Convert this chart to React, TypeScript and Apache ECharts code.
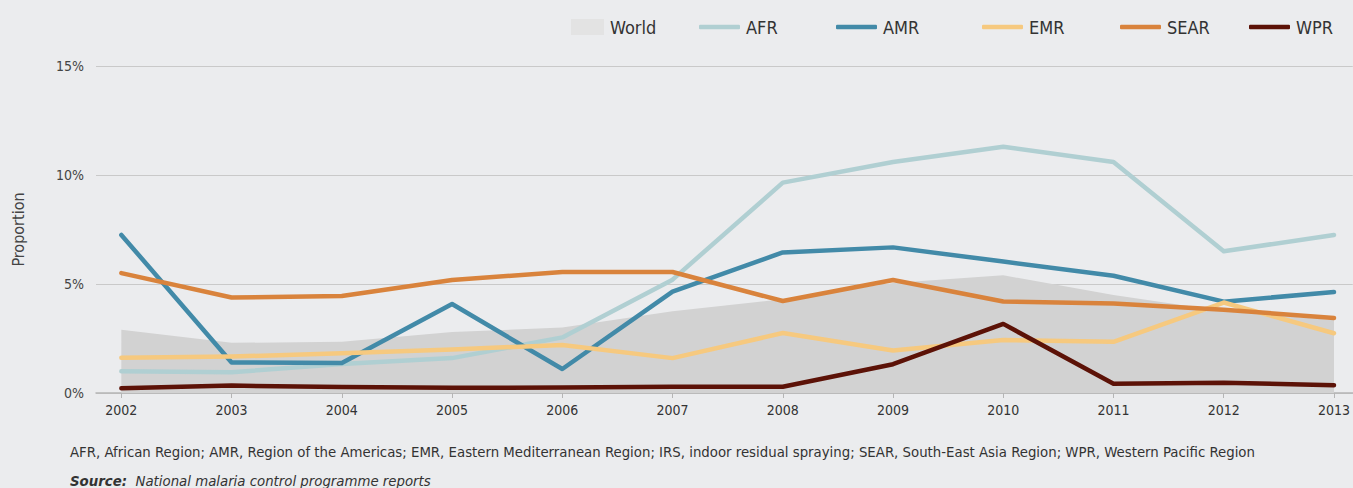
import React, { useEffect, useRef } from "react";
import * as echarts from "echarts";

const years = [2002, 2003, 2004, 2005, 2006, 2007, 2008, 2009, 2010, 2011, 2012, 2013];
const world = [2.9, 2.3, 2.35, 2.8, 3.0, 3.75, 4.3, 5.05, 5.4, 4.5, 3.75, 3.35];
const afr = [1.0, 0.95, 1.33, 1.6, 2.55, 5.2, 9.65, 10.6, 11.3, 10.6, 6.5, 7.25];
const amr = [7.25, 1.4, 1.38, 4.08, 1.1, 4.65, 6.45, 6.68, 6.03, 5.38, 4.19, 4.63];
const emr = [1.62, 1.67, 1.82, 2.0, 2.2, 1.6, 2.75, 1.95, 2.43, 2.35, 4.15, 2.74];
const sear = [5.5, 4.38, 4.45, 5.18, 5.55, 5.55, 4.22, 5.18, 4.2, 4.1, 3.82, 3.44];
const wpr = [0.22, 0.34, 0.27, 0.24, 0.25, 0.29, 0.29, 1.32, 3.17, 0.42, 0.47, 0.36];
const yTicks = [0, 5, 10, 15];

const FONT = "'Liberation Sans Narrow', 'DejaVu Sans Condensed', sans-serif";

const lineSeries = [
  { name: "AFR", data: afr, color: "#b0cfd2", left: 699 },
  { name: "AMR", data: amr, color: "#428aa8", left: 836 },
  { name: "EMR", data: emr, color: "#f6c97f", left: 982 },
  { name: "SEAR", data: sear, color: "#d9833c", left: 1120 },
  { name: "WPR", data: wpr, color: "#5c1207", left: 1249 },
];

export default function App() {
  const ref = useRef<HTMLDivElement>(null);
  useEffect(() => {
    document.body.style.margin = "0";
    document.body.style.background = "#ebecee";
    const chart = echarts.init(ref.current!, null, { renderer: "svg" });
    const pairs = (arr: number[]) => years.map((y, i) => [y, arr[i]]);
    const legendText = { fontFamily: FONT, fontSize: 18, color: "#333", padding: [0, 0, 0, 1] };
    chart.setOption({
      animation: false,
      backgroundColor: "#ebecee",
      textStyle: { fontFamily: FONT },
      grid: { left: 96, right: 0, top: 66, bottom: 95 },
      legend: [
        {
          data: [{ name: "World", icon: "rect" }],
          left: 571,
          top: 18,
          padding: 0,
          itemWidth: 33,
          itemHeight: 16,
          itemGap: 0,
          textStyle: legendText,
        },
        ...lineSeries.map((s) => ({
          data: [{ name: s.name, icon: "roundRect" }],
          left: s.left,
          top: 18,
          padding: 0,
          itemWidth: 41,
          itemHeight: 4.5,
          textStyle: legendText,
        })),
      ],
      xAxis: {
        type: "value",
        min: 2001.77,
        max: 2013.17,
        axisLine: { show: true, lineStyle: { color: "#b5b5b5", width: 1.5 } },
        axisTick: {
          show: true,
          customValues: years,
          length: 5,
          lineStyle: { color: "#b5b5b5" },
        },
        axisLabel: {
          customValues: years,
          formatter: (v: number) => String(v),
          color: "#333",
          fontSize: 14,
          margin: 10,
          fontFamily: FONT,
        },
        splitLine: { show: false },
      },
      yAxis: {
        type: "value",
        min: yTicks[0],
        max: yTicks[yTicks.length - 1],
        interval: 5,
        name: "Proportion",
        nameLocation: "middle",
        nameGap: 70,
        nameTextStyle: { color: "#444", fontSize: 16, fontFamily: FONT },
        axisLine: { show: false },
        axisTick: { show: false },
        axisLabel: {
          formatter: (v: number) => v + "%",
          color: "#444",
          fontSize: 14,
          margin: 12,
          fontFamily: FONT,
        },
        splitLine: { lineStyle: { color: "#c9c9c9", width: 1.2 } },
      },
      series: [
        {
          name: "World",
          type: "line",
          data: pairs(world),
          symbol: "none",
          lineStyle: { width: 0, color: "#d2d2d2" },
          itemStyle: { color: "#e3e3e3" },
          areaStyle: { color: "#d2d2d2", opacity: 1 },
          z: 1,
        },
        ...lineSeries.map((s) => ({
          name: s.name,
          type: "line",
          data: pairs(s.data),
          symbol: "none",
          itemStyle: { color: s.color },
          lineStyle: { width: 4.5, color: s.color, cap: "round", join: "round" },
          z: 3,
        })),
      ],
      graphic: [
        {
          type: "text",
          left: 70,
          top: 444,
          style: {
            text: "AFR, African Region; AMR, Region of the Americas; EMR, Eastern Mediterranean Region; IRS, indoor residual spraying; SEAR, South-East Asia Region; WPR, Western Pacific Region",
            fontFamily: FONT,
            fontSize: 14.8,
            fill: "#333",
          },
        },
        {
          type: "text",
          left: 70,
          top: 473,
          style: {
            text: "{b|Source:}  National malaria control programme reports",
            fontFamily: FONT,
            fontSize: 14.8,
            fontStyle: "italic",
            fill: "#333",
            rich: {
              b: { fontWeight: "bold", fontStyle: "italic", fontFamily: FONT, fontSize: 14.8, fill: "#333" },
            },
          },
        },
      ],
    });
    return () => chart.dispose();
  }, []);
  return <div ref={ref} style={{ width: 1353, height: 488 }} />;
}
